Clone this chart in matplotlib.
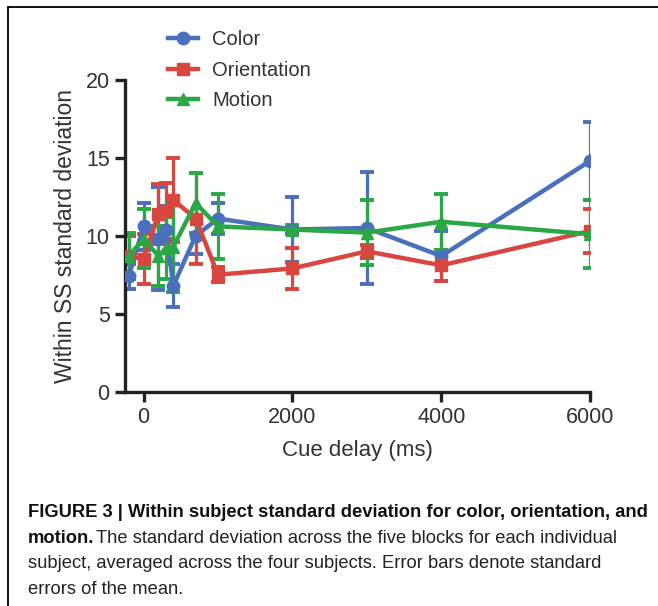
import matplotlib
matplotlib.use("Agg")
import matplotlib.pyplot as plt
from matplotlib import font_manager as fm
from matplotlib.patches import Rectangle

# ---- data ----
delays = [-200, 0, 200, 300, 400, 700, 1000, 2000, 3000, 4000, 6000]
color_sd = [7.4, 10.6, 9.8, 10.4, 6.8, 10.0, 11.1, 10.4, 10.5, 8.7, 14.8]
color_err = [0.8, 1.5, 3.3, 1.5, 1.4, 1.2, 1.0, 2.1, 3.6, 1.6, 2.5]
orient_sd = [8.7, 8.5, 11.4, 11.6, 12.3, 11.1, 7.5, 7.9, 9.0, 8.1, 10.3]
orient_err = [1.3, 1.6, 1.9, 1.8, 2.7, 2.9, 0.5, 1.3, 0.4, 1.0, 1.4]
motion_sd = [8.7, 9.8, 8.7, 9.2, 9.3, 12.1, 10.6, 10.4, 10.2, 10.9, 10.1]
motion_err = [1.5, 1.9, 1.9, 2.0, 2.9, 1.9, 2.1, 0.3, 2.1, 1.8, 2.2]
series_names = ["Color", "Orientation", "Motion"]
x_ticks = [0, 2000, 4000, 6000]
y_ticks = [0, 5, 10, 15, 20]

names = {f.name for f in fm.fontManager.ttflist}
base = "Liberation Sans Narrow" if "Liberation Sans Narrow" in names else "Liberation Sans"
plt.rcParams["font.family"] = [base, "DejaVu Sans"]

W, H = 658, 606
fig = plt.figure(figsize=(W / 100, H / 100), dpi=100)
ax = fig.add_axes([125 / W, 1 - 391.5 / H, 465 / W, (391.5 - 80) / H])

cols = ["#4a6fbd", "#d9453f", "#2aa845"]
markers = ["o", "s", "^"]
data = [(color_sd, color_err), (orient_sd, orient_err), (motion_sd, motion_err)]
handles = []
for (vals, errs), c, m, name in zip(data, cols, markers, series_names):
    ax.errorbar(delays, vals, yerr=errs, fmt="none", ecolor=c, elinewidth=2.3,
                capsize=5, capthick=2.8, zorder=2)
    ln, = ax.plot(delays, vals, color=c, lw=3.2, marker=m, ms=9, zorder=3,
                  label=name, solid_joinstyle="round")
    handles.append(ln)

ax.set_xlim(-250, 6000)
ax.set_ylim(0, 20)
ax.set_xticks(x_ticks)
ax.set_yticks(y_ticks)
for s in ["top", "right"]:
    ax.spines[s].set_visible(False)
for s in ["left", "bottom"]:
    ax.spines[s].set_linewidth(2.4)
    ax.spines[s].set_color("#222222")
ax.tick_params(axis="both", direction="out", length=7, width=2.4, color="#222222",
               labelsize=15.5, labelcolor="#333333", pad=4)
ax.set_xlabel("Cue delay (ms)", fontsize=16, color="#333333", labelpad=9)
ax.set_ylabel("Within SS standard deviation", fontsize=16.5, color="#333333", labelpad=6)

fig.legend(handles=handles, loc="upper left", bbox_to_anchor=(168 / W, 1 - 30 / H),
           frameon=False, fontsize=14.5, handlelength=1.5, handletextpad=0.7,
           labelspacing=0.58, borderpad=0, borderaxespad=0, labelcolor="#333333")

# border
fig.patches.append(Rectangle((8 / W, -0.05), 1.2, 1 - 7 / H + 0.05, transform=fig.transFigure,
                             fill=False, edgecolor="black", lw=1.3))

# caption
lx = 28 / W
fs = 13.25
fig.text(lx, 1 - 517 / H, "FIGURE 3 | Within subject standard deviation for color, orientation, and",
         fontsize=fs, fontweight="bold", va="baseline", color="#111111")
t = fig.text(lx, 1 - 543 / H, "motion.", fontsize=fs, fontweight="bold", va="baseline",
             color="#111111")
fig.canvas.draw()
bb = t.get_window_extent(renderer=fig.canvas.get_renderer())
fig.text(bb.x1 / W + 2 / W, 1 - 543 / H,
         "The standard deviation across the five blocks for each individual",
         fontsize=fs, va="baseline", color="#222222")
fig.text(lx, 1 - 568 / H, "subject, averaged across the four subjects. Error bars denote standard",
         fontsize=fs, va="baseline", color="#222222")
fig.text(lx, 1 - 594 / H, "errors of the mean.", fontsize=fs, va="baseline", color="#222222")

fig.savefig("out.png", dpi=100)
